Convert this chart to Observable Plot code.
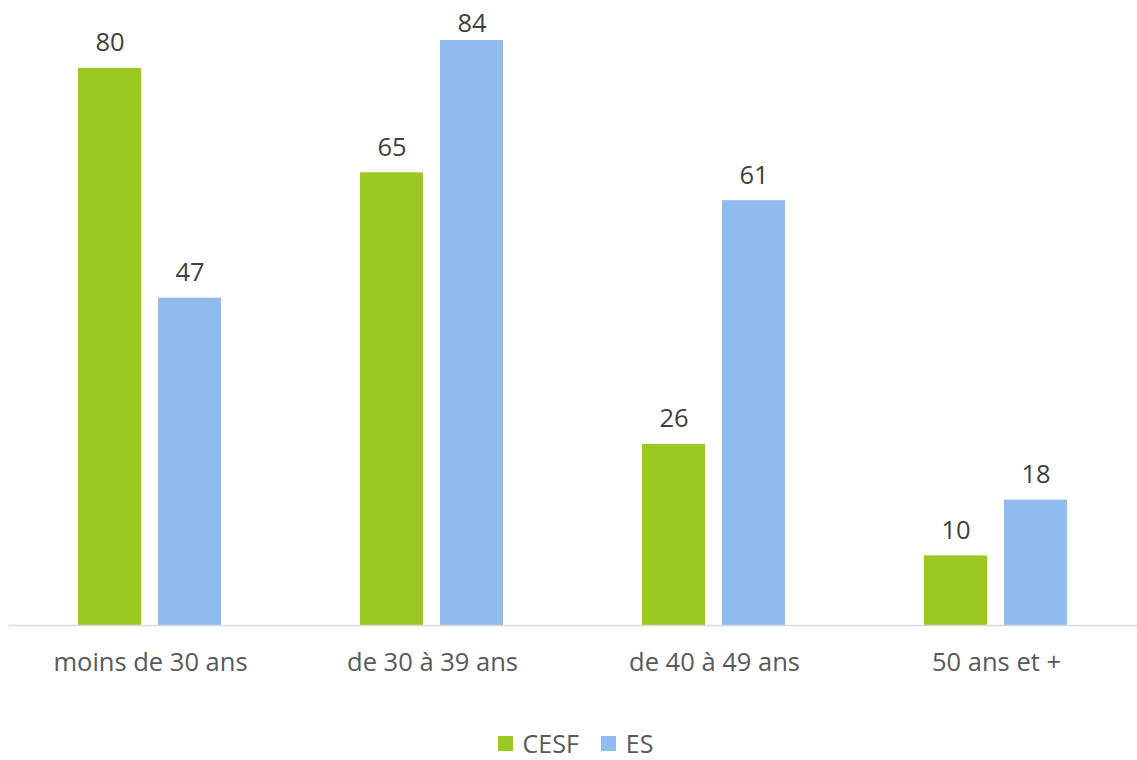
<!DOCTYPE html>
<html>
<head>
<meta charset="utf-8">
<script src="https://cdn.jsdelivr.net/npm/d3@7"></script>
<script src="https://cdn.jsdelivr.net/npm/@observablehq/plot@0.6"></script>
<style>
  html, body { margin: 0; padding: 0; background: #fff; }
  body { width: 1137px; height: 760px; overflow: hidden; font-family: "Open Sans", sans-serif; }
  #chart svg { overflow: visible; display: block; }
  #legend { display: flex; justify-content: center; align-items: center; height: 26px; margin-top: 30px; margin-left: 14px;
            font-size: 25px; line-height: 1; color: #595959; font-family: "Open Sans", sans-serif; }
  .item { display: flex; align-items: center; margin: 0 11px; }
  .sw { width: 15px; height: 15px; margin-right: 10px; }
</style>
</head>
<body>
<div id="chart"></div>
<div id="legend"></div>
<script>
const categories = ["moins de 30 ans", "de 30 à 39 ans", "de 40 à 49 ans", "50 ans et +"];
const series = ["CESF", "ES"];
const cesfValues = [80, 65, 26, 10];
const esValues = [47, 84, 61, 18];
const colors = ["#9BC823", "#8FBBEE"];

const data = [];
categories.forEach((c, i) => {
  data.push({cat: c, series: "CESF", value: cesfValues[i]});
  data.push({cat: c, series: "ES", value: esValues[i]});
});
const maxVal = d3.max(data, d => d.value);

const H = 700;
const plot = Plot.plot({
  width: 1137,
  height: H,
  marginTop: 40,
  marginBottom: H - 625,
  marginLeft: 8,
  marginRight: 0,
  style: {fontFamily: "Open Sans", fontSize: "25.5px", color: "#595959", background: "white", overflow: "visible"},
  fx: {domain: categories, padding: 0, axis: "bottom", tickSize: 0, tickPadding: 27, label: null},
  x: {domain: series, paddingInner: 0.207, paddingOuter: 0.862, axis: null},
  y: {domain: [0, maxVal], axis: null},
  color: {domain: series, range: colors},
  marks: [
    Plot.barY(data, {fx: "cat", x: "series", y: "value", fill: "series"}),
    Plot.ruleY([0], {stroke: "#D9D9D9", strokeWidth: 1.5}),
    Plot.text(data.filter(d => d.value < maxVal), {fx: "cat", x: "series", y: "value", text: d => String(d.value), lineAnchor: "bottom", dy: -17, fill: "#404040"}),
    Plot.text(data.filter(d => d.value === maxVal), {fx: "cat", x: "series", y: "value", text: d => String(d.value), lineAnchor: "bottom", dy: -8.5, fill: "#404040"})
  ]
});
document.getElementById("chart").appendChild(plot);

const legend = document.getElementById("legend");
series.forEach((s, i) => {
  const item = document.createElement("div");
  item.className = "item";
  const sw = document.createElement("span");
  sw.className = "sw";
  sw.style.background = colors[i];
  const t = document.createElement("span");
  t.textContent = s;
  item.appendChild(sw);
  item.appendChild(t);
  legend.appendChild(item);
});
</script>
</body>
</html>
